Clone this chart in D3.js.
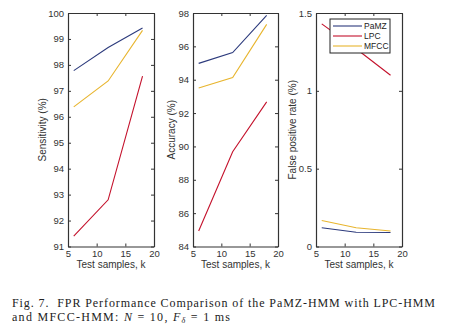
<!DOCTYPE html>
<html>
<head>
<meta charset="utf-8">
<script src="https://cdn.jsdelivr.net/npm/d3@7"></script>
<style>
  body { margin: 0; background: #fff; }
  svg { display: block; }
</style>
</head>
<body>
<svg id="chart"></svg>
<script>
// data
const samples = [6, 12, 18];
const seriesNames = ["PaMZ", "LPC", "MFCC"];
const seriesColors = ["#2c3a7c", "#c4122c", "#e8b52e"];

const sensPaMZ = [97.78, 98.67, 99.42];
const sensLPC = [91.4, 92.8, 97.57];
const sensMFCC = [96.38, 97.38, 99.33];

const accPaMZ = [94.98, 95.63, 97.86];
const accLPC = [84.93, 89.68, 92.67];
const accMFCC = [93.5, 94.13, 97.32];

const fprPaMZ = [0.12, 0.092, 0.09];
const fprLPC = [1.43, 1.27, 1.10];
const fprMFCC = [0.167, 0.12, 0.10];

const xTicks = [5, 10, 15, 20];
const sensTicks = [91, 92, 93, 94, 95, 96, 97, 98, 99, 100];
const accTicks = [84, 86, 88, 90, 92, 94, 96, 98];
const fprTicks = [0, 0.5, 1, 1.5];

const W = 450, H = 332;
const svg = d3.select("#chart").attr("width", W).attr("height", H);

const axisColor = "#333";
const font = "'Liberation Sans', Arial, sans-serif";

function panel(cfg) {
  const left = cfg.left, right = cfg.right, top = 13, bottom = 246.5;
  const x = d3.scaleLinear().domain([5, 20]).range([left, right]);
  const y = d3.scaleLinear().domain(cfg.domain).range([bottom, top]);
  const g = svg.append("g");

  // lines
  const line = d3.line().x((d, i) => x(samples[i])).y(d => y(d));
  cfg.series.forEach((vals, i) => {
    g.append("path")
      .datum(vals)
      .attr("d", line)
      .attr("fill", "none")
      .attr("stroke", seriesColors[i])
      .attr("stroke-width", 1.1);
  });

  // axes (ticks inward, box)
  const tk = 3;
  const ax = [
    g.append("g").attr("transform", `translate(0,${bottom})`)
      .call(d3.axisBottom(x).tickValues(xTicks).tickSize(-tk).tickSizeOuter(0).tickPadding(4)),
    g.append("g").attr("transform", `translate(0,${top})`)
      .call(d3.axisTop(x).tickValues(xTicks).tickSize(-tk).tickSizeOuter(0).tickFormat("")),
    g.append("g").attr("transform", `translate(${left},0)`)
      .call(d3.axisLeft(y).tickValues(cfg.ticks).tickSize(-tk).tickSizeOuter(0).tickPadding(4).tickFormat(cfg.fmt || d3.format("d"))),
    g.append("g").attr("transform", `translate(${right},0)`)
      .call(d3.axisRight(y).tickValues(cfg.ticks).tickSize(-tk).tickSizeOuter(0).tickFormat(""))
  ];
  ax.forEach(a => {
    a.select(".domain").attr("stroke", axisColor).attr("stroke-width", 1.2);
    a.selectAll(".tick line").attr("stroke", axisColor);
    a.selectAll("text").attr("fill", "#333").style("font-family", font).style("font-size", "9.5px");
  });

  // axis labels
  g.append("text")
    .attr("x", (left + right) / 2).attr("y", 268)
    .attr("text-anchor", "middle")
    .style("font-family", font).style("font-size", "10px").attr("fill", "#333")
    .text("Test samples, k");
  g.append("text")
    .attr("transform", `translate(${cfg.labelX},${(top + bottom) / 2}) rotate(-90)`)
    .attr("text-anchor", "middle")
    .style("font-family", font).style("font-size", "10px").attr("fill", "#333")
    .text(cfg.label);

  return { g, x, y };
}

panel({ left: 68, right: 154, domain: [91, 100], ticks: sensTicks,
  series: [sensPaMZ, sensLPC, sensMFCC], label: "Sensitivity (%)", labelX: 46 });
panel({ left: 193, right: 278, domain: [84, 98], ticks: accTicks,
  series: [accPaMZ, accLPC, accMFCC], label: "Accuracy (%)", labelX: 175 });
const p3 = panel({ left: 316, right: 402, domain: [0, 1.5], ticks: fprTicks,
  series: [fprPaMZ, fprLPC, fprMFCC], label: "False positive rate (%)", labelX: 296,
  fmt: d => String(d) });

// legend
const lg = p3.g.append("g").attr("transform", "translate(330,19)");
lg.append("rect").attr("width", 60).attr("height", 34)
  .attr("fill", "#fff").attr("stroke", "#222").attr("stroke-width", 1);
seriesNames.forEach((name, i) => {
  const yy = 7 + i * 10;
  lg.append("line").attr("x1", 3).attr("x2", 32).attr("y1", yy).attr("y2", yy)
    .attr("stroke", seriesColors[i]).attr("stroke-width", 1.1);
  lg.append("text").attr("x", 34).attr("y", yy + 3)
    .style("font-family", font).style("font-size", "8.5px").attr("fill", "#222")
    .text(name);
});

// caption
const cap = svg.append("g").style("font-family", "'Liberation Serif', 'Times New Roman', serif")
  .style("font-size", "12px").attr("fill", "#222");
cap.append("text").attr("x", 12).attr("y", 306.5)
  .attr("textLength", 423).attr("lengthAdjust", "spacing")
  .text("Fig. 7.\u00a0\u00a0FPR Performance Comparison of the PaMZ-HMM with LPC-HMM");
const t2 = cap.append("text").attr("x", 12).attr("y", 321)
  .attr("textLength", 218).attr("lengthAdjust", "spacing");
t2.append("tspan").text("and MFCC-HMM: ");
t2.append("tspan").style("font-style", "italic").text("N");
t2.append("tspan").text(" = 10, ");
t2.append("tspan").style("font-style", "italic").text("F");
t2.append("tspan").style("font-style", "italic").style("font-size", "8px").attr("dy", 2).text("δ");
t2.append("tspan").attr("dy", -2).text(" = 1 ms");
</script>
</body>
</html>
